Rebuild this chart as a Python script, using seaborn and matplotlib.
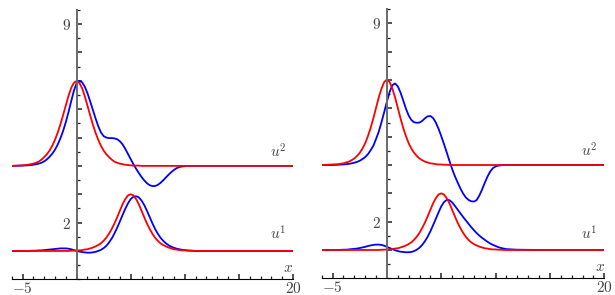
import seaborn as sns
import matplotlib.pyplot as plt
from matplotlib.ticker import MultipleLocator

# sample positions along x (shared by all curves)
x_grid = [-6, -5, -4.5, -4, -3.75, -3.5, -3.25, -3, -2.75,
          -2.5, -2.25, -2, -1.75, -1.5, -1.25, -1, -0.75, -0.5, -0.25,
          0,
          0.25, 0.5, 0.75, 1, 1.25, 1.5, 1.75, 2, 2.25, 2.5,
          2.75, 3, 3.25, 3.5, 3.75, 4, 4.25, 4.5, 4.75, 5,
          5.25, 5.5, 5.75, 6, 6.25, 6.5, 6.75, 7, 7.25, 7.5,
          7.75, 8, 8.25, 8.5, 8.75, 9, 9.25, 9.5, 9.75, 10,
          10.25, 10.5, 10.75, 11, 12, 14, 20]

# left panel
u2_red_left = [4.00, 4.02, 4.04, 4.08, 4.11, 4.15, 4.22, 4.31, 4.41,
               4.54, 4.71, 4.92, 5.17, 5.46, 5.79, 6.13, 6.47, 6.75, 6.93,
               7.00,
               6.93, 6.75, 6.47, 6.13, 5.79, 5.46, 5.17, 4.92, 4.71, 4.54,
               4.41, 4.31, 4.22, 4.15, 4.11, 4.08, 4.06, 4.04, 4.03, 4.02,
               4.01, 4.01, 4.01, 4.00, 4.00, 4.00, 4.00, 4.00, 4.00, 4.00,
               4.00, 4.00, 4.00, 4.00, 4.00, 4.00, 4.00, 4.00, 4.00, 4.00,
               4.00, 4.00, 4.00, 4.00, 4.00, 4.00, 4.00]
u2_blue_left = [4.00, 4.01, 4.02, 4.04, 4.06, 4.08, 4.11, 4.16, 4.23,
                4.32, 4.43, 4.57, 4.75, 4.97, 5.23, 5.54, 5.90, 6.28, 6.65,
                6.92,
                7.00, 6.95, 6.80, 6.57, 6.28, 5.98, 5.68, 5.40, 5.18, 5.05,
                5.00, 4.98, 4.98, 4.97, 4.94, 4.87, 4.76, 4.60, 4.42, 4.24,
                4.06, 3.90, 3.75, 3.61, 3.49, 3.39, 3.32, 3.29, 3.29, 3.33,
                3.40, 3.49, 3.59, 3.69, 3.78, 3.86, 3.92, 3.96, 3.98, 3.99,
                4.00, 4.00, 4.00, 4.00, 4.00, 4.00, 4.00]
u1_red = [1.00, 1.00, 1.00, 1.00, 1.00, 1.00, 1.00, 1.00, 1.00,
          1.00, 1.00, 1.00, 1.00, 1.00, 1.00, 1.00, 1.00, 1.01, 1.01,
          1.02,
          1.02, 1.03, 1.05, 1.06, 1.09, 1.12, 1.16, 1.21, 1.27, 1.36,
          1.47, 1.61, 1.78, 1.97, 2.19, 2.42, 2.65, 2.83, 2.96, 3.00,
          2.96, 2.83, 2.65, 2.42, 2.19, 1.97, 1.78, 1.61, 1.47, 1.36,
          1.27, 1.21, 1.16, 1.12, 1.09, 1.06, 1.05, 1.03, 1.02, 1.02,
          1.01, 1.01, 1.00, 1.00, 1.00, 1.00, 1.00]
u1_blue_left = [1.00, 1.00, 1.00, 1.01, 1.01, 1.02, 1.02, 1.03, 1.04,
                1.05, 1.06, 1.07, 1.08, 1.09, 1.09, 1.09, 1.08, 1.06, 1.03,
                1.00,
                0.98, 0.96, 0.95, 0.94, 0.94, 0.95, 0.97, 1.00, 1.04, 1.10,
                1.18, 1.30, 1.44, 1.62, 1.82, 2.04, 2.27, 2.49, 2.68, 2.83,
                2.91, 2.93, 2.89, 2.78, 2.62, 2.42, 2.20, 1.98, 1.78, 1.61,
                1.47, 1.36, 1.27, 1.20, 1.15, 1.11, 1.08, 1.06, 1.04, 1.03,
                1.02, 1.01, 1.01, 1.00, 1.00, 1.00, 1.00]

# right panel
u2_red_right = [4.00, 4.02, 4.03, 4.06, 4.09, 4.12, 4.17, 4.23, 4.32,
                4.43, 4.58, 4.77, 5.02, 5.31, 5.65, 6.02, 6.39, 6.70, 6.93,
                7.02,
                6.93, 6.70, 6.39, 6.02, 5.65, 5.31, 5.02, 4.77, 4.58, 4.43,
                4.32, 4.23, 4.17, 4.12, 4.09, 4.06, 4.05, 4.03, 4.02, 4.02,
                4.01, 4.01, 4.00, 4.00, 4.00, 4.00, 4.00, 4.00, 4.00, 4.00,
                4.00, 4.00, 4.00, 4.00, 4.00, 4.00, 4.00, 4.00, 4.00, 4.00,
                4.00, 4.00, 4.00, 4.00, 4.00, 4.00, 4.00]
u2_blue_right = [4.00, 4.00, 4.01, 4.02, 4.03, 4.04, 4.06, 4.08, 4.11,
                 4.15, 4.21, 4.28, 4.38, 4.52, 4.68, 4.92, 5.18, 5.51, 5.87,
                 6.24,
                 6.58, 6.82, 6.88, 6.78, 6.56, 6.28, 5.99, 5.75, 5.59, 5.51,
                 5.49, 5.50, 5.56, 5.65, 5.72, 5.73, 5.66, 5.50, 5.28, 5.02,
                 4.74, 4.45, 4.15, 3.86, 3.61, 3.39, 3.18, 3.00, 2.86, 2.77,
                 2.72, 2.71, 2.76, 2.92, 3.13, 3.37, 3.59, 3.77, 3.89, 3.95,
                 3.98, 3.99, 4.00, 4.00, 4.00, 4.00, 4.00]
u1_blue_right = [1.00, 1.00, 1.00, 1.01, 1.01, 1.02, 1.03, 1.04, 1.05,
                 1.07, 1.09, 1.11, 1.14, 1.16, 1.18, 1.19, 1.19, 1.18, 1.15,
                 1.11,
                 1.07, 1.03, 0.99, 0.96, 0.94, 0.93, 0.92, 0.92, 0.93, 0.96,
                 1.01, 1.08, 1.18, 1.31, 1.47, 1.66, 1.88, 2.10, 2.33, 2.54,
                 2.69, 2.77, 2.76, 2.68, 2.56, 2.43, 2.30, 2.17, 2.05, 1.93,
                 1.81, 1.70, 1.60, 1.51, 1.43, 1.36, 1.29, 1.23, 1.18, 1.14,
                 1.10, 1.07, 1.05, 1.03, 1.01, 1.00, 1.00]

x_ticks = [-5, 0, 5, 10, 15, 20]
x_tick_labels = ['$-5$', '', '', '', '', '$20$']
y_ticks = [1, 2, 3, 4, 5, 6, 7, 8, 9]
y_tick_labels = ['', '$2$', '', '', '', '', '', '', '$9$']

sns.set_style('white')
plt.rcParams['mathtext.fontset'] = 'cm'

fig = plt.figure(figsize=(6.15, 2.95), dpi=100)
ax1 = fig.add_axes([0.019, 0.0532, 0.4574, 0.913])
ax2 = fig.add_axes([0.5231, 0.0566, 0.4595, 0.912])

panels = [(ax1, u2_red_left, u2_blue_left, u1_red, u1_blue_left),
          (ax2, u2_red_right, u2_blue_right, u1_red, u1_blue_right)]

for ax, r2, b2, r1, b1 in panels:
    # blue under red
    sns.lineplot(x=x_grid, y=b2, ax=ax, color='#0000ff', lw=1.3, estimator=None, sort=False)
    sns.lineplot(x=x_grid, y=b1, ax=ax, color='#0000ff', lw=1.3, estimator=None, sort=False)
    sns.lineplot(x=x_grid, y=r2, ax=ax, color='#ff0000', lw=1.3, estimator=None, sort=False)
    sns.lineplot(x=x_grid, y=r1, ax=ax, color='#ff0000', lw=1.3, estimator=None, sort=False)

    ax.set_xlim(-6, 20)
    ax.set_ylim(0, 9.5)
    ax.set_facecolor('none')
    for s in ['top', 'right']:
        ax.spines[s].set_visible(False)
    ax.spines['left'].set_position(('data', 0))
    ax.spines['left'].set_color('#6a6a6a')
    ax.spines['left'].set_linewidth(1.4)
    ax.spines['bottom'].set_position(('data', 0))
    ax.spines['bottom'].set_color('black')
    ax.spines['bottom'].set_linewidth(0.8)

    ax.set_xticks(x_ticks)
    ax.set_xticklabels(x_tick_labels)
    ax.set_yticks(y_ticks)
    ax.set_yticklabels(y_tick_labels)
    ax.xaxis.set_minor_locator(MultipleLocator(1))
    ax.yaxis.set_minor_locator(MultipleLocator(0.5))
    ax.tick_params(which='both', bottom=True, left=True, top=False, right=False)
    ax.tick_params(which='major', direction='in', length=3.5, width=1.1, color='#222222',
                   labelsize=11, labelcolor='#444444', pad=1)
    ax.tick_params(which='minor', direction='in', length=2.2, width=0.9, color='#222222')
    ax.tick_params(axis='y', which='major', pad=4)

    ax.text(17.9, 4.3, '$u^2$', fontsize=11, color='#444444')
    ax.text(17.9, 1.38, '$u^1$', fontsize=11, color='#444444')
    ax.text(19.1, 0.25, '$x$', fontsize=11, color='#444444')
    ax.set_xlabel('')
    ax.set_ylabel('')

fig.savefig('out.png', dpi=100)
